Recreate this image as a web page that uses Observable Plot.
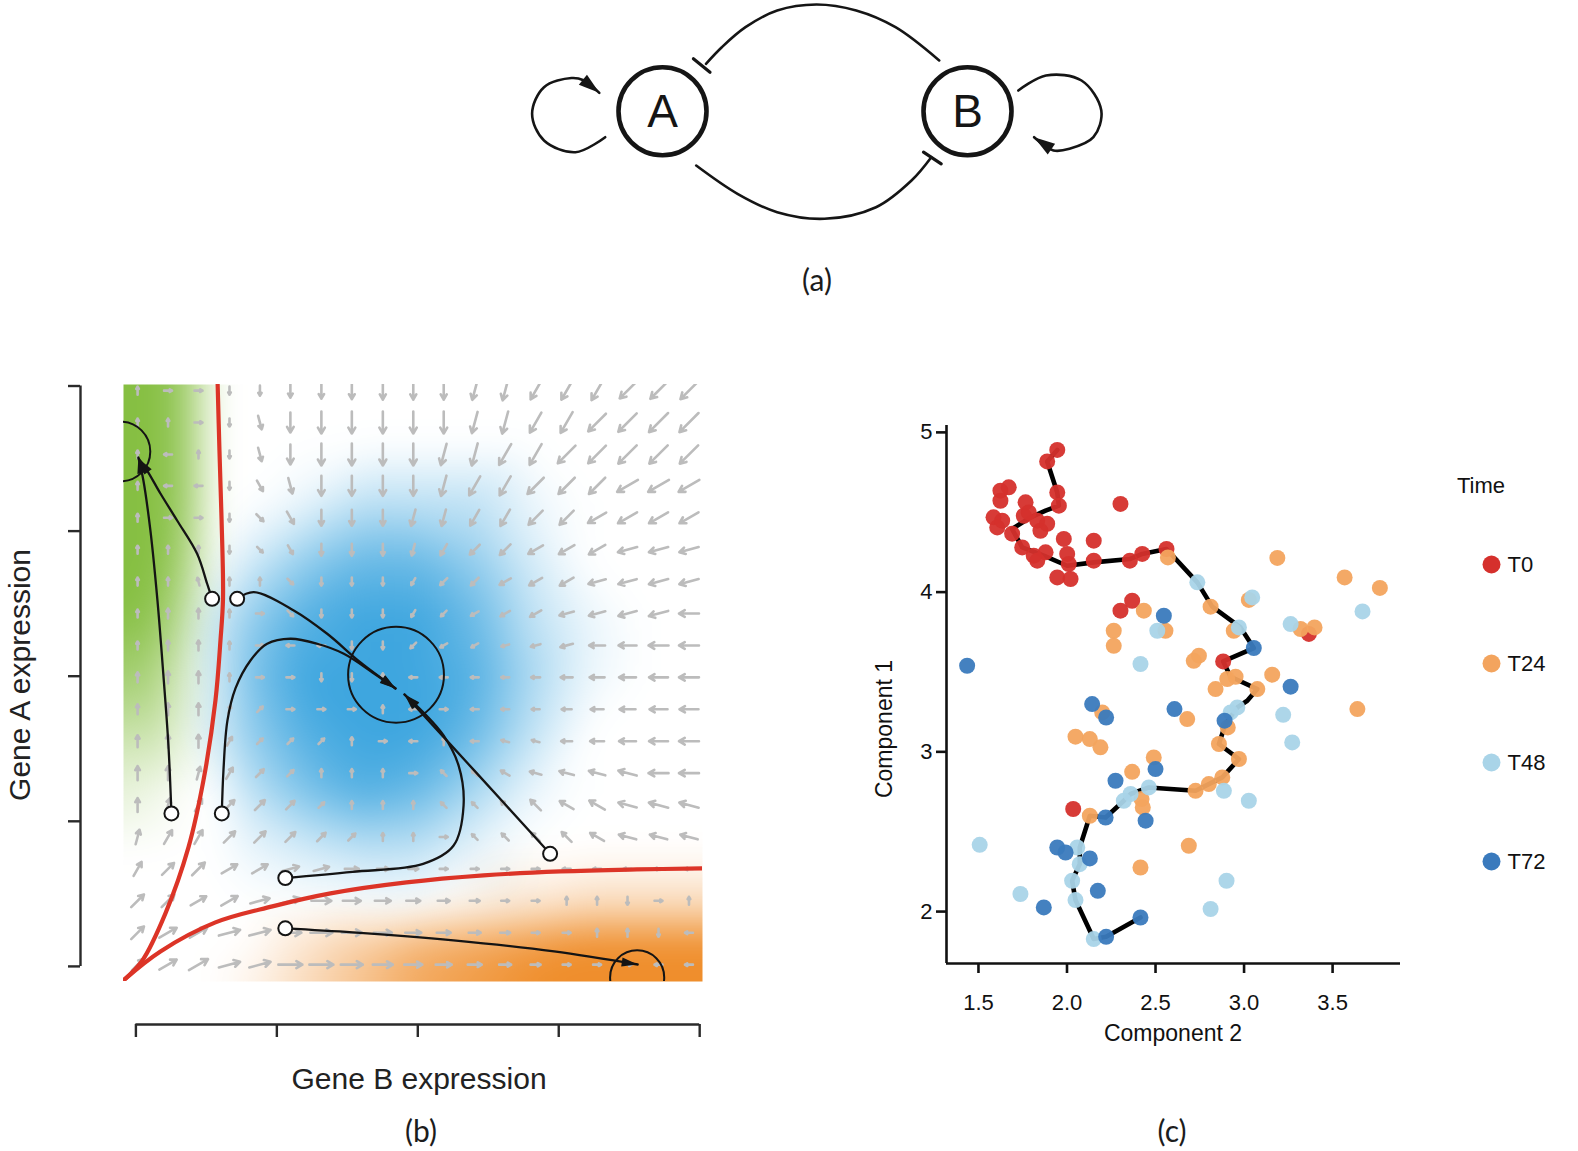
<!DOCTYPE html>
<html>
<head>
<meta charset="utf-8">
<script src="https://cdn.jsdelivr.net/npm/d3@7"></script>
<script src="https://cdn.jsdelivr.net/npm/@observablehq/plot@0.6"></script>
<style>
  html, body { margin: 0; padding: 0; background: #ffffff; overflow: hidden; }
  #root { position: relative; width: 1578px; height: 1151px; overflow: hidden; background: #ffffff; }
  .panel { position: absolute; }
  .txt { position: absolute; white-space: nowrap; line-height: 1; color: #1c1c1c; }
</style>
</head>
<body>
<div id="root"></div>
<script>
// ======================= DATA =======================
// ---- Panel (a): toggle-switch network (abstract layout units) ----
const nodeNames = ["A", "B"];
const nodeU = [-1, 1];
const nodeV = [0, 0];
const inhibitBtoA = [[0.8144,0.3325],[0.5279,0.5508],[0.2702,0.6603],[0.0098,0.6997],[-0.2479,0.6603],[-0.4557,0.5508],[-0.6111,0.4197],[-0.7148,0.3108]];
const inhibitAtoB = [[-0.7790,-0.3561],[-0.5082,-0.5416],[-0.2479,-0.6623],[0.0623,-0.7056],[0.4000,-0.6295],[0.6328,-0.4544],[0.7626,-0.3016]];
const barOnA = [[-0.7974,0.3436],[-0.6885,0.2557]];
const barOnB = [[0.7115,-0.2689],[0.8275,-0.3449]];
const selfLoopA = [[-1.3757,-0.1705],[-1.5705,-0.2689],[-1.7770,-0.1921],[-1.8551,-0.0170],[-1.7770,0.1574],[-1.5967,0.2175],[-1.5180,0.2030],[-1.4144,0.1203]];
const selfLoopB = [[1.3331,0.1357],[1.5148,0.2341],[1.7475,0.2013],[1.8774,0.0046],[1.8256,-0.1705],[1.6689,-0.2466],[1.5639,-0.2577],[1.4367,-0.1705]];

// ---- Panel (b): landscape of Gene B (x) vs Gene A (y) expression ----
const bTicks = [0, 0.25, 0.5, 0.75, 1];
const gridB = [0.003,0.057,0.111,0.166,0.220,0.274,0.329,0.383,0.438,0.492,0.546,0.601,0.655,0.709,0.764,0.818,0.872,0.927,0.981];
const gridA = [0.992,0.937,0.882,0.828,0.773,0.718,0.663,0.608,0.553,0.498,0.443,0.388,0.333,0.278,0.223,0.168,0.113,0.058,0.003];
// direction code: a=up, then 15 degree steps clockwise (g=right, m=down, s=left)
const fieldDir = [
  "aggmmmmmmmmnnoooppp",
  "aagmlmmmmmmnnoopppp",
  "asamlmmmmmnnooppppp",
  "assmklmmmmnoopppqqq",
  "aggmjkmmmnnooppqqqq",
  "aaamjkmmmnoppqqqrrr",
  "aaxaajmmmoppqqqrrrr",
  "aaaagjmmmopqqqrrrrs",
  "aaaagssmmpqqrrrssss",
  "aaaaggmmassssssssss",
  "aaabdgggasgssssssss",
  "aaacdddagsasttsssss",
  "aabcddaaagvvuttttss",
  "abcddddaaavvvvuuttt",
  "bccdddddaagvvvvuttt",
  "cddeeffgggggggsssss",
  "ddeeffggggggggaamga",
  "deeffggggggggggaams",
  "deeffggggggggggggss"
];
// arrow length in pixels, base-36 digits
const fieldLen = [
  "4556aeghiiijkklmmno",
  "4558ekmmmmmmnnopqrr",
  "4558ekmmmmmnooppqqq",
  "4556cgkkkklmmnnnooo",
  "4555aeggghhijkklmmm",
  "56658accccdefhijkkk",
  "6885568888abdfgijkk",
  "8aa555555679bdfhjkk",
  "8aa6555555568adgikk",
  "acc85555555579cfhjk",
  "acc85555555557adgij",
  "cdda8655555568behjk",
  "eeddb9655558acfhjkk",
  "eeeeec865558cfgijkk",
  "fggggeca6555acegiii",
  "ghiiiigeca865555566",
  "iiijkkkigeca8655555",
  "ikkmmmmkigeca865555",
  "gkmmmoomkigeca85555"
];
const separatrixLeft = [[-0.0222,-0.0241],[0.0115,0.0103],[0.0524,0.0913],[0.0932,0.2050],[0.1198,0.3204],[0.1411,0.4582],[0.1500,0.5616],[0.1545,0.6339],[0.1520,0.7683],[0.1482,0.8889],[0.1450,1.0026]];
const separatrixBottom = [[-0.0222,-0.0241],[0.0435,0.0258],[0.1411,0.0758],[0.2422,0.1034],[0.3452,0.1258],[0.4800,0.1447],[0.6167,0.1568],[0.7533,0.1637],[0.8882,0.1671],[1.0053,0.1688]];
const trajectories = [
  [[0.0630,0.2636],[0.0577,0.3807],[0.0488,0.5013],[0.0382,0.6305],[0.0257,0.7511],[0.0133,0.8372],[0.0044,0.8768]],
  [[0.1352,0.6334],[0.1264,0.6593],[0.1086,0.7109],[0.0731,0.7683],[0.0435,0.8148],[0.0199,0.8544],[0.0050,0.8746]],
  [[0.1796,0.6334],[0.2091,0.6448],[0.2800,0.6133],[0.3393,0.5731],[0.3984,0.5237],[0.4605,0.4789]],
  [[0.1524,0.2636],[0.1553,0.3376],[0.1624,0.4238],[0.1766,0.4789],[0.2032,0.5271],[0.2328,0.5559],[0.2742,0.5645],[0.3216,0.5559],[0.3688,0.5387],[0.4197,0.5065],[0.4605,0.4789]],
  [[0.2650,0.1523],[0.3842,0.1628],[0.5095,0.1766],[0.5632,0.2078],[0.5812,0.2773],[0.5723,0.3463],[0.5457,0.3979],[0.5102,0.4375],[0.4765,0.4685]],
  [[0.7347,0.1940],[0.6061,0.3313],[0.4765,0.4685]],
  [[0.2650,0.0656],[0.3846,0.0587],[0.5633,0.0448],[0.7418,0.0258],[0.8900,0.0033]]
];
const attractorCenters = [[-0.0275,0.8872],[0.4614,0.5025],[0.8891,-0.0189]];
const attractorRadius = [0.053, 0.085, 0.048]; // in Gene B units
// background colour levels (0-9) sampled on a coarse grid
const bgX = [-0.03,0.04,0.09,0.14,0.2,0.3,0.4,0.5,0.6,0.7,0.8,0.9,1.01];
const bgY = [1.01,0.9,0.8,0.7,0.6,0.5,0.4,0.3,0.2,0.1,0.04,-0.03];
const greenLevels = ["9970000000000","9970000000000","9970000000000","9960000000000","9840000000000","7620000000000","4410000000000","2100000000000","0000000000000","0000000000000","0000000000000","0000000000000"];
const blueLevels  = ["0000000000000","0000000000000","0000013331000","0000257752000","0002589973100","0002699984100","0002589973000","0000368741000","0000123310000","0000000000000","0000000000000","0000000000000"];
const orangeLevels= ["0000000000000","0000000000000","0000000000000","0000000000000","0000000000000","0000000000000","0000000000000","0000000000000","0000000000000","0000000012333","0000024678999","0000135789999"];

// ---- Panel (c): cells on two components, coloured by time ----
const timeLabels = ["T0", "T24", "T48", "T72"];
const timeColors = ["#d5302c", "#f3a45e", "#a9d4e8", "#3a7abd"];
const t0Cells = [[1.945,4.890],[1.888,4.818],[1.945,4.624],[1.954,4.541],[1.624,4.635],[1.671,4.656],[1.585,4.468],[1.606,4.405],[1.690,4.366],[1.747,4.280],[1.832,4.197],[1.879,4.249],[1.766,4.562],[1.756,4.478],[1.832,4.447],[1.850,4.384],[1.888,4.428],[1.945,4.092],[2.020,4.082],[1.982,4.333],[2.001,4.239],[2.010,4.176],[2.151,4.322],[2.151,4.197],[2.302,4.552],[2.355,4.197],[2.425,4.239],[2.562,4.270],[2.302,3.884],[2.368,3.946],[2.882,3.566],[3.366,3.738],[2.035,2.642],[1.624,4.572],[1.634,4.447],[1.812,4.228],[1.784,4.499]];
const t24Cells = [[2.570,4.217],[2.811,3.909],[2.942,3.758],[3.027,3.951],[2.952,3.470],[2.905,3.456],[3.075,3.393],[2.908,3.153],[2.858,3.049],[2.971,2.955],[2.877,2.840],[2.801,2.798],[2.726,2.756],[3.188,4.214],[3.568,4.092],[3.767,4.026],[3.319,3.769],[3.398,3.779],[2.745,3.602],[2.716,3.570],[2.839,3.393],[3.159,3.483],[3.640,3.268],[2.679,3.205],[2.490,2.965],[2.434,3.884],[2.556,3.758],[2.264,3.758],[2.264,3.664],[2.199,3.247],[2.048,3.095],[2.129,3.080],[2.189,3.028],[2.368,2.875],[2.421,2.704],[2.428,2.652],[2.129,2.600],[2.688,2.412],[2.415,2.276]];
const t48Cells = [[2.736,4.061],[2.971,3.779],[3.046,3.967],[2.962,3.278],[2.924,3.247],[3.669,3.879],[3.263,3.800],[3.221,3.232],[3.272,3.059],[2.886,2.756],[3.027,2.694],[2.510,3.758],[2.415,3.550],[2.462,2.777],[2.359,2.736],[2.321,2.694],[2.058,2.401],[2.072,2.297],[2.029,2.193],[2.048,2.072],[2.151,1.828],[1.507,2.418],[1.737,2.110],[2.901,2.193],[2.811,2.016]];
const t72Cells = [[3.055,3.650],[2.547,3.852],[1.436,3.539],[2.890,3.195],[3.263,3.408],[2.607,3.268],[2.500,2.892],[2.142,3.299],[2.221,3.215],[2.274,2.819],[2.444,2.569],[2.218,2.589],[1.945,2.401],[1.992,2.370],[2.129,2.333],[2.174,2.130],[2.221,1.842],[2.415,1.963],[1.869,2.026]];
const pseudotimePath = [[1.945,4.890],[1.888,4.818],[1.945,4.624],[1.954,4.541],[1.879,4.510],[1.794,4.468],[1.690,4.395],[1.747,4.280],[1.869,4.228],[2.001,4.165],[2.151,4.186],[2.355,4.207],[2.425,4.239],[2.562,4.270],[2.736,4.061],[2.820,3.909],[2.980,3.779],[3.055,3.650],[2.882,3.566],[2.924,3.470],[3.075,3.393],[3.018,3.320],[2.962,3.278],[2.895,3.174],[2.858,3.049],[2.971,2.955],[2.877,2.840],[2.801,2.798],[2.726,2.756],[2.462,2.777],[2.359,2.736],[2.321,2.694],[2.218,2.589],[2.129,2.600],[2.072,2.401],[2.072,2.297],[2.029,2.193],[2.048,2.072],[2.151,1.828],[2.221,1.842],[2.415,1.963]];
const cXTicks = [1.5, 2, 2.5, 3, 3.5];
const cYTicks = [2, 3, 4, 5];

// ======================= HELPERS =======================
const root = document.getElementById("root");
function place(el, left, top) {
  const w = document.createElement("div");
  w.className = "panel";
  w.style.left = left + "px";
  w.style.top = top + "px";
  w.appendChild(el);
  root.appendChild(w);
}
function addText(str, x, y, size, family, opts = {}) {
  const d = document.createElement("div");
  d.className = "txt";
  d.textContent = str;
  d.style.left = x + "px";
  d.style.top = y + "px";
  d.style.fontSize = size + "px";
  d.style.fontFamily = family;
  if (opts.color) d.style.color = opts.color;
  const ax = opts.anchor === "start" ? "0" : "-50%";
  d.style.transform = `translate(${ax}, -50%)` + (opts.rotate ? ` rotate(${opts.rotate}deg)` : "");
  root.appendChild(d);
}
const SANS = '"Liberation Sans", Arial, Helvetica, sans-serif';
const HUMAN = 'Lato, "Open Sans", sans-serif';
const px = d => d[0], py = d => d[1];
function headOf(pts, kx, ky) {
  const a = pts[pts.length - 2], b = pts[pts.length - 1];
  return {x: b[0], y: b[1], rotate: Math.atan2((b[0] - a[0]) * kx, (b[1] - a[1]) * ky) * 180 / Math.PI};
}

// ======================= PANEL (a) =======================
{
  const unit = 152.5;
  const nodes = nodeNames.map((n, i) => ({name: n, x: nodeU[i], y: nodeV[i]}));
  const heads = [headOf(selfLoopA, 1, 1), headOf(selfLoopB, 1, 1)];
  const arcStyle = {x: px, y: py, curve: "catmull-rom", stroke: "#151515", strokeWidth: 2.6, strokeLinecap: "round", fill: "none"};
  const svg = Plot.plot({
    width: 660, height: 240, margin: 0,
    style: {background: "transparent", overflow: "visible"},
    x: {domain: [-1, 1], range: [182, 182 + 2 * unit], axis: null},
    y: {domain: [-1, 1], range: [110.7 + unit, 110.7 - unit], axis: null},
    marks: [
      Plot.line(inhibitBtoA, arcStyle),
      Plot.line(inhibitAtoB, arcStyle),
      Plot.line(selfLoopA, arcStyle),
      Plot.line(selfLoopB, arcStyle),
      Plot.line(barOnA, {x: px, y: py, stroke: "#151515", strokeWidth: 3.2}),
      Plot.line(barOnB, {x: px, y: py, stroke: "#151515", strokeWidth: 3.2}),
      Plot.vector(heads, {x: "x", y: "y", rotate: "rotate", length: 21, r: 6.5, shape: "spike", anchor: "end", fill: "#151515", stroke: "none"}),
      Plot.dot(nodes, {x: "x", y: "y", r: 44, fill: "white", stroke: "#151515", strokeWidth: 4.6}),
      Plot.text(nodes, {x: "x", y: "y", text: "name", fontSize: 46, fontFamily: SANS, fill: "#151515", dy: 1})
    ]
  });
  place(svg, 480, 0);
  addText("(a)", 817, 279, 30, HUMAN);
}

// ======================= PANEL (b) =======================
{
  const W = 760, H = 700, top = 360;
  const mL = 123, mR = W - 702, mT = 24, mB = H - 621;
  const xDom = [-0.022, 1.005], yDom = [-0.026, 1.0026];
  const kx = (W - mL - mR) / (xDom[1] - xDom[0]);
  const ky = (H - mT - mB) / (yDom[1] - yDom[0]);
  const dirCode = "abcdefghijklmnopqrstuvwx";
  const arrows = [];
  fieldDir.forEach((row, i) => {
    for (let j = 0; j < row.length; j++) {
      const th = dirCode.indexOf(row[j]) * 15 * Math.PI / 180;
      const len = Math.max(8, parseInt(fieldLen[i][j], 36));
      const hx = Math.sin(th) * len / 2 / kx, hy = Math.cos(th) * len / 2 / ky;
      arrows.push({x1: gridB[j] - hx, y1: gridA[i] - hy, x2: gridB[j] + hx, y2: gridA[i] + hy});
    }
  });
  const samples = levels => levels.flatMap((row, i) => row.split("").map((c, j) => ({x: bgX[j], y: bgY[i], v: +c})));
  const rasterOpts = {x: "x", y: "y", fillOpacity: "v", interpolate: "barycentric", blur: 16,
    x1: xDom[0], x2: xDom[1], y1: yDom[0], y2: yDom[1]};
  const heads = trajectories.map(t => headOf(t, kx, ky));
  const starts = trajectories.map(t => t[0]);
  const attractors = attractorCenters.map((c, i) => ({x: c[0], y: c[1], r: attractorRadius[i] * kx}));
  const axisGap = 43;
  const ruleDx = -axisGap - (0 - xDom[0]) * kx;
  const ruleDy = axisGap + (0 - yDom[0]) * ky;
  const svg = Plot.plot({
    width: W, height: H,
    marginLeft: mL, marginRight: mR, marginTop: mT, marginBottom: mB,
    style: {background: "transparent", overflow: "visible"},
    x: {domain: xDom},
    y: {domain: yDom},
    opacity: {domain: [0, 9], range: [0, 1]},
    r: {type: "identity"},
    marks: [
      Plot.raster(samples(greenLevels), {...rasterOpts, fill: "#86bf42"}),
      Plot.raster(samples(blueLevels), {...rasterOpts, fill: "#3ea6df"}),
      Plot.raster(samples(orangeLevels), {...rasterOpts, fill: "#ef8e2c"}),
      Plot.arrow(arrows, {x1: "x1", y1: "y1", x2: "x2", y2: "y2", stroke: "#bcbcbc", strokeWidth: 2.6, headLength: 4, headAngle: 60, clip: true}),
      Plot.line(separatrixLeft, {x: px, y: py, curve: "catmull-rom", stroke: "#dc3427", strokeWidth: 4.2, clip: true}),
      Plot.line(separatrixBottom, {x: px, y: py, curve: "catmull-rom", stroke: "#dc3427", strokeWidth: 4.2, clip: true}),
      ...trajectories.map(t => Plot.line(t, {x: px, y: py, curve: "catmull-rom", stroke: "#141414", strokeWidth: 2.3})),
      Plot.vector(heads, {x: "x", y: "y", rotate: "rotate", length: 16, r: 4.5, shape: "spike", anchor: "end", fill: "#141414", stroke: "none"}),
      Plot.dot(attractors, {x: "x", y: "y", r: "r", fill: "none", stroke: "#141414", strokeWidth: 2, clip: true}),
      Plot.dot(starts, {x: px, y: py, r: 7, fill: "white", stroke: "#141414", strokeWidth: 2}),
      Plot.ruleX([0], {y1: 0, y2: 1, dx: ruleDx, stroke: "#2a2a2a", strokeWidth: 2.4}),
      Plot.ruleY([0], {x1: 0, x2: 1, dy: ruleDy, stroke: "#2a2a2a", strokeWidth: 2.4}),
      Plot.axisY({ticks: bTicks, tickSize: 12, tickFormat: () => "", label: null, dx: -axisGap, stroke: "#2a2a2a", strokeWidth: 2.4}),
      Plot.axisX({ticks: bTicks, tickSize: 13, tickFormat: () => "", label: null, dy: axisGap, stroke: "#2a2a2a", strokeWidth: 2.4})
    ]
  });
  place(svg, 0, top);
  addText("Gene A expression", 20, 675, 30, SANS, {rotate: -90, color: "#222"});
  addText("Gene B expression", 419, 1079, 30, SANS, {color: "#222"});
  addText("(b)", 421, 1130, 30, HUMAN);
}

// ======================= PANEL (c) =======================
{
  const cells = [t0Cells, t24Cells, t48Cells, t72Cells].flatMap((pts, k) => pts.map(([x, y]) => ({x, y, time: timeLabels[k]})));
  const [x0, x1] = d3.extent(cells, d => d.x);
  const [y0, y1] = d3.extent(cells, d => d.y);
  const xDom = [x0 - 0.05 * (x1 - x0), x1 + 0.05 * (x1 - x0)];
  const yDom = [y0 - 0.05 * (y1 - y0), y1 + 0.05 * (y1 - y0)];
  const svg = Plot.plot({
    width: 580, height: 680,
    marginLeft: 106, marginRight: 20, marginTop: 45, marginBottom: 97,
    style: {background: "transparent", overflow: "visible", fontFamily: SANS, fontSize: "22px", color: "#111"},
    x: {domain: xDom},
    y: {domain: yDom},
    color: {domain: timeLabels, range: timeColors},
    marks: [
      Plot.ruleX([xDom[0]], {stroke: "#111", strokeWidth: 2.6}),
      Plot.ruleY([yDom[0]], {stroke: "#111", strokeWidth: 2.6}),
      Plot.axisX({ticks: cXTicks, tickFormat: ".1f", tickSize: 10, tickPadding: 21, strokeWidth: 2.6, fontSize: 22, label: null}),
      Plot.axisY({ticks: cYTicks, tickFormat: "d", tickSize: 10, tickPadding: 4, strokeWidth: 2.6, fontSize: 22, label: null}),
      Plot.line(pseudotimePath, {x: px, y: py, stroke: "#000", strokeWidth: 4.6, strokeLinejoin: "round"}),
      Plot.dot(cells, {x: "x", y: "y", fill: "time", r: 8, fillOpacity: 0.95})
    ]
  });
  place(svg, 840, 380);
  addText("Component 2", 1173, 1033, 23, SANS, {color: "#111"});
  addText("Component 1", 884, 729, 23, SANS, {rotate: -90, color: "#111"});
  addText("(c)", 1172, 1130, 30, HUMAN);

  // legend
  const legend = Plot.plot({
    width: 138, height: 400, margin: 0,
    style: {background: "transparent", overflow: "visible", fontFamily: SANS, fontSize: "22px", color: "#111"},
    y: {type: "point", domain: timeLabels, range: [62.6, 362.5], padding: 0, axis: null},
    color: {domain: timeLabels, range: timeColors},
    marks: [
      Plot.dot(timeLabels, {y: d => d, fill: d => d, r: 9, frameAnchor: "left", dx: 51}),
      Plot.text(timeLabels, {y: d => d, text: d => d, frameAnchor: "left", dx: 67, textAnchor: "start", fontSize: 22})
    ]
  });
  place(legend, 1440, 500);
  addText("Time", 1457, 486, 22, SANS, {anchor: "start", color: "#111"});
}
</script>
</body>
</html>
